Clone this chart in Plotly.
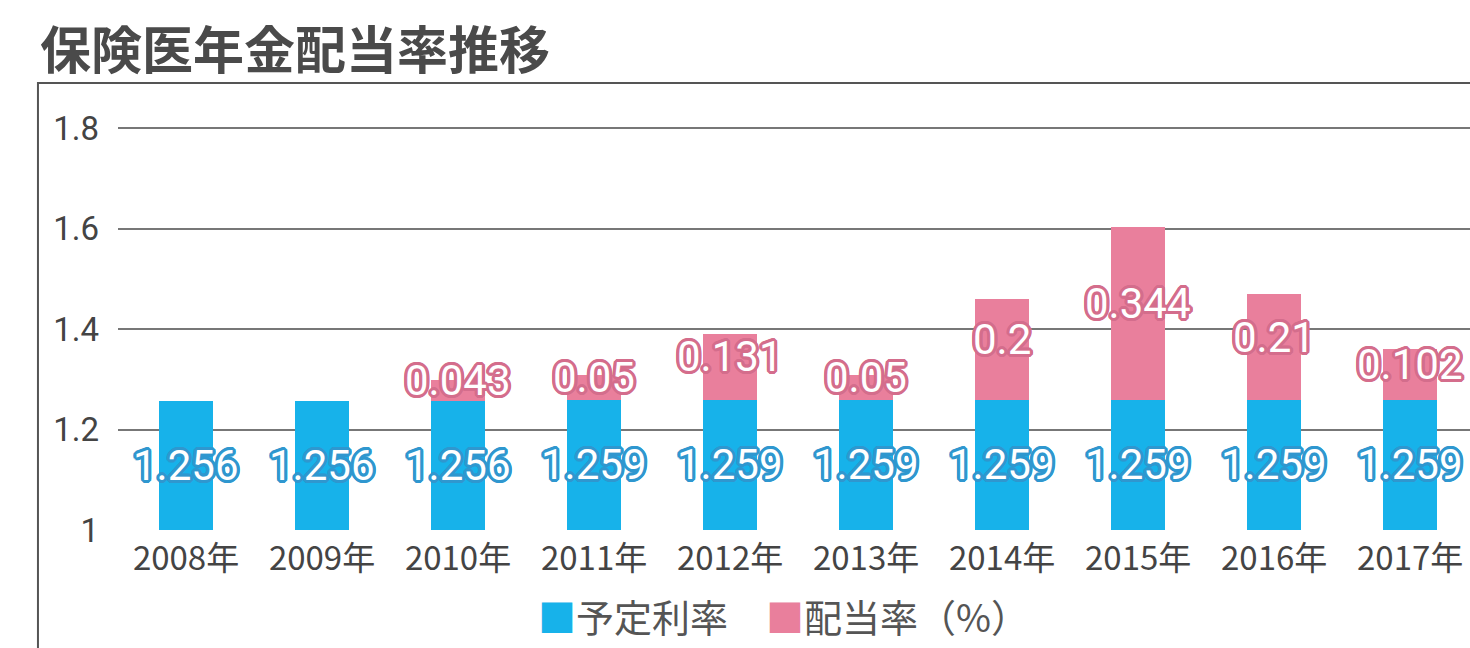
import plotly.graph_objects as go

years = ["2008年", "2009年", "2010年", "2011年", "2012年", "2013年", "2014年", "2015年", "2016年", "2017年"]
yotei = [1.256, 1.256, 1.256, 1.259, 1.259, 1.259, 1.259, 1.259, 1.259, 1.259]
haito = [None, None, 0.043, 0.05, 0.131, 0.05, 0.2, 0.344, 0.21, 0.102]
ytick_vals = [1, 1.2, 1.4, 1.6, 1.8]
ytick_text = ["1", "1.2", "1.4", "1.6", "1.8"]

BLUE = "#17b2ea"
PINK = "#e97f9c"
BLUE_EDGE = "#2f97cf"
PINK_EDGE = "#d46d8c"
YMIN, YMAX = 1.0, 1.85


def outline(c, w=3):
    parts = []
    for dx in range(-w, w + 1):
        for dy in range(-w, w + 1):
            if (dx or dy) and dx * dx + dy * dy <= w * w + 1:
                parts.append(f"{dx}px {dy}px 0 {c}")
    return ", ".join(parts)


fig = go.Figure()
fig.add_bar(x=years, y=yotei, name="予定利率", marker_color=BLUE, marker_line_width=0)
fig.add_bar(x=years, y=[h if h is not None else 0 for h in haito], name="配当率（%）",
            marker_color=PINK, marker_line_width=0)

num_font = "Roboto, Noto Sans, sans-serif"
for i, (yr, b, h) in enumerate(zip(years, yotei, haito)):
    fig.add_annotation(x=yr, y=(YMIN + b) / 2, text=f"{b}", showarrow=False,
                       font=dict(family=num_font, size=42, color="white",
                                 shadow=outline(BLUE_EDGE)))
    if h is not None:
        fig.add_annotation(x=yr, y=b + h / 2, yshift=10, text=f"{h}", showarrow=False,
                           font=dict(family=num_font, size=42, color="white",
                                     shadow=outline(PINK_EDGE)))

# title
fig.add_annotation(xref="paper", yref="paper", x=-0.0592, y=1.131, xanchor="left", yanchor="middle",
                   text="保険医年金配当率推移", showarrow=False,
                   font=dict(family="Noto Sans CJK JP", size=51, color="#4a4a4a", weight="bold"))

# legend as text
fig.add_annotation(xref="paper", yref="paper", x=0.492, y=-0.2, xanchor="center", yanchor="middle",
                   text=f"<span style='color:{BLUE}'>■</span>予定利率　<span style='color:{PINK}'>■</span>配当率（%）",
                   showarrow=False,
                   font=dict(family="Noto Sans CJK JP", size=38, color="#555555"))

# frame box
fig.add_shape(type="rect", xref="paper", yref="paper", x0=-0.0592, x1=1.1, y0=-0.5, y1=1.047,
              line=dict(color="#555555", width=2), fillcolor="rgba(0,0,0,0)", layer="below")

fig.update_layout(
    width=1470, height=648,
    margin=dict(l=118, r=0, t=103, b=118),
    barmode="stack", bargap=0.6,
    showlegend=False,
    plot_bgcolor="white", paper_bgcolor="white",
    font=dict(family="Noto Sans CJK JP", color="#444444"),
)
fig.update_xaxes(range=[-0.5, 9.44], showgrid=False, showline=False, ticks="",
                 ticklabelstandoff=6,
                 tickfont=dict(family="Noto Sans CJK JP", size=33, color="#444444"))
fig.update_yaxes(range=[YMIN, YMAX], tickvals=ytick_vals, ticktext=ytick_text,
                 showgrid=True, gridcolor="#777777", gridwidth=1.5, zeroline=False,
                 showline=False, ticks="", ticklabelstandoff=18,
                 tickfont=dict(family="Roboto, Noto Sans, sans-serif", size=33, color="#444444"))

fig.write_html("out.html")
